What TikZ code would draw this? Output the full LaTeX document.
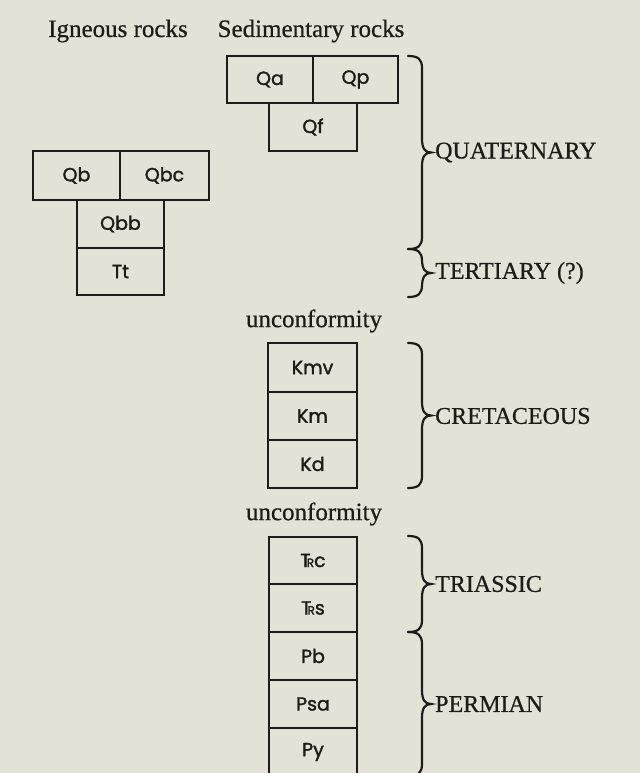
\documentclass[tikz,border=0pt]{standalone}
\usepackage{fontspec}
\setmainfont{Liberation Serif}[FakeBold=0.6]
\newfontfamily\boxfont{Poppins}[FakeBold=1.6]
\definecolor{paper}{RGB}{226,226,214}
\definecolor{ink}{RGB}{30,27,25}
\newcommand\TRsym{T\kern-0.2em{\fontsize{12}{12}\selectfont R}}
\newcommand\geobrace[2]{% #1 = top y, #2 = bottom y
  \draw[bracestyle] (408,#1) .. controls (418,#1) and (422,#1+3) .. (422,#1+12)
    -- (422,{(#1+#2)/2-14}) .. controls (422,{(#1+#2)/2-4}) and (425,{(#1+#2)/2}) .. (431,{(#1+#2)/2})
    .. controls (425,{(#1+#2)/2}) and (422,{(#1+#2)/2+4}) .. (422,{(#1+#2)/2+14})
    -- (422,#2-12) .. controls (422,#2-3) and (418,#2) .. (408,#2);}
\tikzset{
  unit/.style={draw=ink, line width=2.4pt, minimum width=87pt, minimum height=48pt,
    inner sep=0pt, font=\boxfont\fontsize{19}{19}\selectfont, text=ink},
  bracestyle/.style={draw=ink, line width=2.2pt, line cap=round},
  period/.style={anchor=west, font=\fontsize{24}{24}\selectfont, text=ink, inner sep=0pt},
  head/.style={font=\fontsize{25}{25}\selectfont, text=ink, inner sep=0pt}
}
\begin{document}
\begin{tikzpicture}[x=1pt,y=-1pt]
\fill[paper] (0,0) rectangle (640,773);
\useasboundingbox (0,0) rectangle (640,773);
\begin{scope}
\clip (0,0) rectangle (640,773);
% headers
\node[head] (hig) at (118,31) {Igneous rocks};
\node[head] (hsed) at (311,31) {Sedimentary rocks};
% sedimentary quaternary
\node[unit, minimum width=86pt, minimum height=47pt] (Qa) at (270,79.5) {Qa};
\node[unit, minimum width=85pt, minimum height=47pt] (Qp) at (355.5,79.5) {Qp};
\node[unit, minimum width=88pt] (Qf) at (313,127) {Qf};
% igneous
\node[unit, minimum width=87pt, minimum height=49pt] (Qb) at (76.5,175.5) {Qb};
\node[unit, minimum width=89pt, minimum height=49pt] (Qbc) at (164.5,175.5) {Qbc};
\node[unit] (Qbb) at (120.5,224) {Qbb};
\node[unit, minimum height=47pt] (Tt) at (120.5,271.5) {Tt};
% unconformity
\node[head] (unc1) at (314,321) {unconformity};
% cretaceous
\node[unit, minimum width=89pt, minimum height=49pt] (Kmv) at (312.5,367.5) {Kmv};
\node[unit, minimum width=89pt] (Km) at (312.5,416) {Km};
\node[unit, minimum width=89pt] (Kd) at (312.5,464) {Kd};
% unconformity
\node[head] (unc2) at (314,514) {unconformity};
% triassic / permian
\node[unit, minimum width=88pt, minimum height=47pt] (Trc) at (313,560.5) {\TRsym c};
\node[unit, minimum width=88pt] (Trs) at (313,608) {\TRsym s};
\node[unit, minimum width=88pt] (Pb) at (313,656) {Pb};
\node[unit, minimum width=88pt] (Psa) at (313,704) {Psa};
\node[unit, minimum width=88pt] (Py) at (313,752) {Py};
% braces
\geobrace{56}{249}
\geobrace{249}{297}
\geobrace{343}{488}
\geobrace{536}{632}
\geobrace{632}{776}
% period labels
\node[period] (quat) at (435,152.5) {QUATERNARY};
\node[period] (tert) at (435,273) {TERTIARY (?)};
\node[period] (cret) at (435,416) {CRETACEOUS};
\node[period] (tria) at (435,584) {TRIASSIC};
\node[period] (perm) at (435,704) {PERMIAN};
\end{scope}
\end{tikzpicture}
\end{document}
